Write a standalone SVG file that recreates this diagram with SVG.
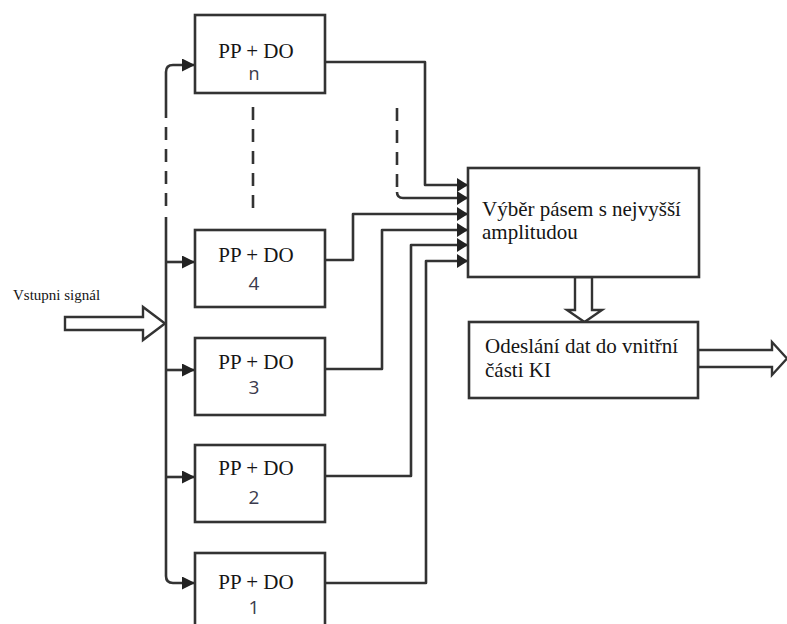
<svg xmlns="http://www.w3.org/2000/svg" width="787" height="624" viewBox="0 0 787 624">
<style>
.box{fill:#fff;stroke:#333;stroke-width:2.6}
.ln{fill:none;stroke:#333;stroke-width:2.6;stroke-linejoin:round}
.dash{fill:none;stroke:#333;stroke-width:2.6;stroke-dasharray:13 9}
.hollow{fill:#fff;stroke:#333;stroke-width:2.4;stroke-linejoin:miter}
</style>
<defs>
<marker id="ah" viewBox="0 0 12 12" refX="12" refY="6" markerWidth="13" markerHeight="13" markerUnits="userSpaceOnUse" orient="auto">
<path d="M0,0 L12,6 L0,12 z" fill="#222"/>
</marker>
<marker id="ahs" viewBox="0 0 11 14" refX="11" refY="7" markerWidth="11" markerHeight="14" markerUnits="userSpaceOnUse" orient="auto">
<path d="M0,0 L11,7 L0,14 z" fill="#222"/>
</marker>
</defs>

<g id="connectors">
<path class="ln" d="M166,118 V72 Q166,65 173,65 H195" marker-end="url(#ah)"/>
<path class="dash" d="M166,127 V210"/>
<path class="ln" d="M166,217 V576 Q166,583 173,583 H195" marker-end="url(#ah)"/>
<path class="ln" d="M166,262 H195" marker-end="url(#ah)"/>
<path class="ln" d="M166,370 H195" marker-end="url(#ah)"/>
<path class="ln" d="M166,477 H195" marker-end="url(#ah)"/>
<path class="dash" d="M253,107 V210"/>
<path class="dash" d="M397,108 V190"/>
<path class="ln" d="M325,62 H425 V185 H468" marker-end="url(#ahs)"/>
<path class="ln" d="M397,192 Q397,198 403,198 H468" marker-end="url(#ahs)"/>
<path class="ln" d="M325,260 H353 V214 H468" marker-end="url(#ahs)"/>
<path class="ln" d="M325,369 H382 V230 H468" marker-end="url(#ahs)"/>
<path class="ln" d="M325,476 H411 V245 H468" marker-end="url(#ahs)"/>
<path class="ln" d="M325,583 H426 V261 H468" marker-end="url(#ahs)"/>
<polygon class="hollow" points="65,317 143,317 143,307 165,323.5 143,340 143,330 65,330"/>
<polygon class="hollow" points="575,277 575,310 567,310 584.5,322 602,310 592,310 592,277"/>
<polygon class="hollow" points="698,350 772,350 772,342 787,358.5 772,375 772,367 698,367"/>
</g>

<text x="13" y="300" font-family="Liberation Serif, Times New Roman, serif" font-size="15" fill="#151515">Vstupni signál</text>

<g id="node-n">
<rect class="box" x="195" y="15" width="130" height="78"/>
<text x="256" y="58" font-family="Liberation Serif, Times New Roman, serif" font-size="21" fill="#151515" text-anchor="middle">PP + DO</text>
<text x="254" y="80" font-family="Open Sans, Liberation Sans, sans-serif" font-size="18" fill="#3a3a4c" text-anchor="middle">n</text>
</g>
<g id="node-4">
<rect class="box" x="195" y="230" width="130" height="77"/>
<text x="256" y="262" font-family="Liberation Serif, Times New Roman, serif" font-size="21" fill="#151515" text-anchor="middle">PP + DO</text>
<text x="254" y="290" font-family="Open Sans, Liberation Sans, sans-serif" font-size="19" fill="#3a3a4c" text-anchor="middle">4</text>
</g>
<g id="node-3">
<rect class="box" x="195" y="338" width="130" height="77"/>
<text x="256" y="369" font-family="Liberation Serif, Times New Roman, serif" font-size="21" fill="#151515" text-anchor="middle">PP + DO</text>
<text x="254" y="394" font-family="Open Sans, Liberation Sans, sans-serif" font-size="19" fill="#3a3a4c" text-anchor="middle">3</text>
</g>
<g id="node-2">
<rect class="box" x="195" y="445" width="130" height="77"/>
<text x="256" y="475" font-family="Liberation Serif, Times New Roman, serif" font-size="21" fill="#151515" text-anchor="middle">PP + DO</text>
<text x="254" y="504" font-family="Open Sans, Liberation Sans, sans-serif" font-size="19" fill="#3a3a4c" text-anchor="middle">2</text>
</g>
<g id="node-1">
<rect class="box" x="195" y="553" width="130" height="80"/>
<text x="256" y="589" font-family="Liberation Serif, Times New Roman, serif" font-size="21" fill="#151515" text-anchor="middle">PP + DO</text>
<text x="254" y="614" font-family="Open Sans, Liberation Sans, sans-serif" font-size="19" fill="#3a3a4c" text-anchor="middle">1</text>
</g>
<g id="node-select">
<rect class="box" x="468" y="168" width="231" height="109"/>
<text x="482" y="216" font-family="Liberation Serif, Times New Roman, serif" font-size="21" fill="#151515">Výběr pásem s nejvyšší</text>
<text x="482" y="239" font-family="Liberation Serif, Times New Roman, serif" font-size="21" fill="#151515">amplitudou</text>
</g>
<g id="node-send">
<rect class="box" x="469" y="322" width="229" height="76"/>
<text x="485" y="353" font-family="Liberation Serif, Times New Roman, serif" font-size="21" fill="#151515">Odeslání dat do vnitřní</text>
<text x="485" y="377" font-family="Liberation Serif, Times New Roman, serif" font-size="21" fill="#151515">části KI</text>
</g>
</svg>
